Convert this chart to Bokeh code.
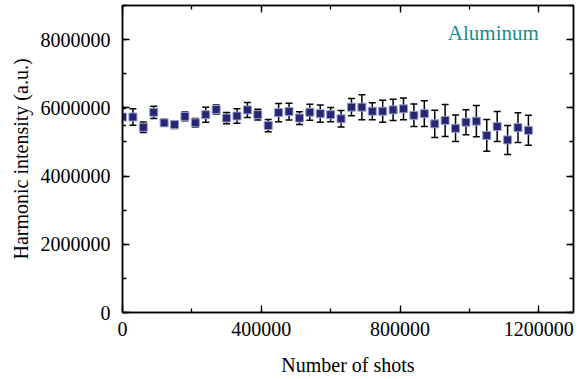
from bokeh.plotting import figure
from bokeh.models import (ColumnDataSource, Whisker, TeeHead, LinearAxis,
                          SingleIntervalTicker, BasicTickFormatter, Range1d, Label)
from bokeh.embed import file_html
from bokeh.resources import INLINE

shots = [0, 30000, 60000, 90000, 120000, 150000, 180000, 210000, 240000, 270000,
         300000, 330000, 360000, 390000, 420000, 450000, 480000, 510000, 540000, 570000,
         600000, 630000, 660000, 690000, 720000, 750000, 780000, 810000, 840000, 870000,
         900000, 930000, 960000, 990000, 1020000, 1050000, 1080000, 1110000, 1140000, 1170000]
intensity = [5730000, 5730000, 5430000, 5870000, 5560000, 5510000, 5750000, 5560000, 5800000, 5950000,
             5700000, 5760000, 5940000, 5800000, 5480000, 5860000, 5890000, 5700000, 5870000, 5830000,
             5800000, 5680000, 6020000, 6020000, 5900000, 5900000, 5940000, 5970000, 5780000, 5830000,
             5530000, 5630000, 5400000, 5580000, 5610000, 5190000, 5450000, 5060000, 5420000, 5340000]
error = [250000, 240000, 155000, 180000, 100000, 115000, 130000, 125000, 220000, 130000,
         165000, 210000, 220000, 160000, 180000, 265000, 245000, 185000, 235000, 255000,
         210000, 245000, 255000, 367000, 250000, 320000, 310000, 320000, 330000, 377000,
         400000, 470000, 390000, 367000, 455000, 465000, 440000, 425000, 435000, 440000]

label_text = "Aluminum"
x_title = "Number of shots"
y_title = "Harmonic intensity (a.u.)"

FONT = "Liberation Serif"
FS = "20px"

src = ColumnDataSource(dict(
    x=shots, y=intensity,
    lo=[v - e for v, e in zip(intensity, error)],
    hi=[v + e for v, e in zip(intensity, error)],
))

p = figure(width=578, height=379, output_backend="svg", toolbar_location=None,
           x_range=Range1d(0, 1300000), y_range=Range1d(0, 9000000),
           min_border_left=122, min_border_right=5, min_border_top=5, min_border_bottom=67,
           x_axis_location=None, y_axis_location=None)
p.background_fill_color = "white"
p.border_fill_color = "white"
p.grid.visible = False
p.outline_line_color = "black"
p.outline_line_width = 1.5

xt = SingleIntervalTicker(interval=400000, num_minor_ticks=2)
yt = SingleIntervalTicker(interval=2000000, num_minor_ticks=2)

def style(ax, show):
    ax.axis_line_color = "black"
    ax.axis_line_width = 1.5
    ax.major_tick_in = 7
    ax.major_tick_out = 0
    ax.minor_tick_in = 4
    ax.minor_tick_out = 0
    ax.major_tick_line_width = 1.3
    ax.minor_tick_line_width = 1.3
    ax.major_label_text_font = FONT
    ax.major_label_text_font_size = FS
    ax.major_label_text_color = "black" if show else None
    ax.axis_label_text_font = FONT
    ax.axis_label_text_font_size = FS
    ax.axis_label_text_font_style = "normal"
    ax.axis_label_text_color = "black"
    if not show:
        ax.major_label_standoff = 0

bx = LinearAxis(ticker=xt, formatter=BasicTickFormatter(use_scientific=False), axis_label=x_title)
style(bx, True)
bx.major_label_standoff = 9
bx.axis_label_standoff = 15
p.add_layout(bx, "below")

ly = LinearAxis(ticker=yt, formatter=BasicTickFormatter(use_scientific=False), axis_label=y_title)
style(ly, True)
ly.major_label_standoff = 12
ly.axis_label_standoff = 6
p.add_layout(ly, "left")

tx = LinearAxis(ticker=xt, formatter=BasicTickFormatter(use_scientific=False))
style(tx, False)
p.add_layout(tx, "above")
ry = LinearAxis(ticker=yt, formatter=BasicTickFormatter(use_scientific=False))
style(ry, False)
p.add_layout(ry, "right")

w = Whisker(source=src, base="x", lower="lo", upper="hi", line_color="black", line_width=1.5,
            upper_head=TeeHead(size=7, line_color="black", line_width=1.5),
            lower_head=TeeHead(size=7, line_color="black", line_width=1.5))
p.add_layout(w)

p.scatter("x", "y", source=src, marker="square", size=8,
          fill_color="#262673", line_color="#9a9ccc", line_width=1)

lab = Label(x=1069000, y=8200000, text=label_text, text_font=FONT, text_font_size="21px",
            text_color="#1a8c8c", text_align="center", text_baseline="alphabetic")
p.add_layout(lab)

open("out.html", "w").write(file_html(p, INLINE))
